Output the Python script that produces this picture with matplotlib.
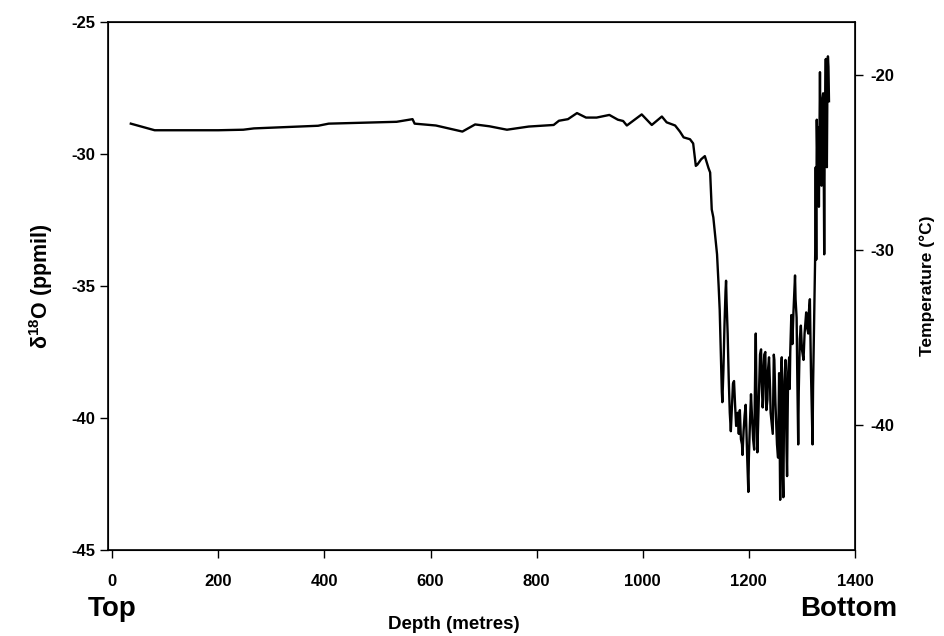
import matplotlib
matplotlib.use("Agg")
import matplotlib.pyplot as plt

plt.rcParams["font.family"] = ["Liberation Sans", "DejaVu Sans"]
plt.rcParams["font.weight"] = "bold"
plt.rcParams["mathtext.default"] = "regular"
plt.rcParams["axes.unicode_minus"] = False

# depth (m) and delta-18O (per mil)
depth = [35, 80, 200, 247, 267, 327, 388, 408, 536, 566, 570, 610, 660, 684,
         711, 744, 785, 832, 842, 859, 876, 893, 913, 937, 953, 963, 970, 998,
         1017, 1036, 1045, 1061, 1070, 1077, 1089, 1095, 1100, 1103, 1110, 1117,
         1124, 1127, 1130, 1133, 1136,
         1140, 1143, 1145, 1147, 1149, 1150, 1152, 1154, 1156, 1157, 1158, 1160,
         1162, 1164, 1166, 1168, 1170, 1172, 1174, 1176, 1177, 1179, 1181, 1183,
         1185, 1187, 1188, 1190, 1192, 1194, 1196, 1197, 1199, 1200, 1202, 1204,
         1206, 1208, 1210, 1211, 1212, 1213, 1214, 1215, 1216, 1218, 1220, 1221,
         1223, 1224, 1226, 1227, 1228, 1229, 1231, 1232, 1233, 1235, 1236, 1238,
         1240, 1241, 1243, 1245, 1246, 1247, 1248, 1250, 1252, 1253, 1255, 1256,
         1257, 1258, 1259, 1260, 1261, 1262, 1263, 1264, 1265, 1266, 1267, 1269,
         1270, 1271, 1272, 1273, 1274, 1276, 1277, 1278, 1280, 1282, 1284, 1287,
         1288, 1290, 1291, 1293, 1294, 1296, 1298, 1300, 1303, 1305, 1308, 1310,
         1312, 1313, 1315, 1317, 1320, 1321, 1323, 1325, 1326, 1327, 1328, 1330,
         1331, 1332, 1334, 1335, 1337, 1338, 1340, 1341, 1342, 1343, 1345, 1346,
         1347, 1348, 1349, 1350, 1351]
d18o = [-28.85, -29.1, -29.1, -29.08, -29.03, -28.98, -28.93, -28.85, -28.78,
        -28.68, -28.85, -28.92, -29.15, -28.88, -28.95, -29.08, -28.96, -28.9,
        -28.74, -28.68, -28.45, -28.62, -28.62, -28.52, -28.7, -28.75, -28.92,
        -28.5, -28.9, -28.58, -28.8, -28.92, -29.15, -29.37, -29.44, -29.6,
        -30.45, -30.4, -30.2, -30.08, -30.54, -30.7, -32.1, -32.4, -33.0,
        -33.8, -35.0, -35.9, -37.5, -39.0, -39.4, -38.2, -36.5, -35.2, -34.8,
        -35.6, -36.8, -38.5, -39.8, -40.5, -39.6, -38.7, -38.6, -39.5, -40.3,
        -40.2, -39.8, -40.6, -39.7, -40.8, -41.0, -41.4, -40.5, -39.9, -39.5,
        -40.9, -41.6, -42.8, -41.5, -40.2, -39.1, -40.0, -40.8, -41.2, -39.5,
        -38.0, -36.8, -38.5, -40.2, -41.3, -39.8, -38.4, -37.6, -37.4, -38.6,
        -39.6, -39.3, -38.0, -37.6, -37.5, -38.8, -39.7, -39.3, -38.2, -37.7,
        -38.9, -39.8, -40.2, -40.6, -39.0, -37.6, -37.8, -39.4, -40.4, -41.0,
        -41.5, -40.0, -38.3, -40.6, -43.1, -40.5, -38.2, -37.7, -40.0, -42.2,
        -43.0, -40.5, -38.6, -37.8, -39.6, -41.2, -42.2, -40.0, -38.3, -37.7,
        -38.9, -37.5, -36.1, -37.2, -36.0, -34.6, -35.5, -36.2, -38.0, -41.0,
        -39.0, -37.0, -36.5, -37.4, -37.8, -36.8, -36.0, -36.6, -36.8, -36.0,
        -35.5, -38.2, -41.0, -38.8, -36.3, -33.8, -30.5, -34.0, -28.7, -31.5,
        -29.0, -32.0, -26.9, -29.5, -31.2, -28.0, -27.7, -30.0, -33.8, -29.0,
        -26.4, -28.5, -30.5, -27.5, -26.3, -26.7, -28.0]

x_ticks = [0, 200, 400, 600, 800, 1000, 1200, 1400]
y_ticks = [-45, -40, -35, -30, -25]
t_ticks = [-40, -30, -20]


def to_temp(d):
    # linear calibration
    return 1.5086 * d + 20.745


fig = plt.figure(figsize=(9.44, 6.36), dpi=100)
ax = fig.add_axes([0.1144, 0.1352, 0.7913, 0.8302])
ax.plot(depth, d18o, color="black", lw=1.7)

ax.set_xlim(-8, 1400)
ax.set_ylim(-45, -25)
ax.set_xticks(x_ticks)
ax.set_yticks(y_ticks)
ax.tick_params(direction="out", length=6, width=1, labelsize=12, pad=3)
ax.tick_params(axis="x", pad=11)
for s in ax.spines.values():
    s.set_linewidth(1.2)
ax.set_ylabel("δ$^{18}$O (ppmil)", fontsize=15.5, fontweight="bold", labelpad=12)

ax2 = ax.twinx()
ax2.set_ylim(to_temp(-45), to_temp(-25))
ax2.set_yticks(t_ticks)
ax2.tick_params(direction="out", length=6, width=1, labelsize=12, pad=5)
ax2.set_ylabel("Temperature (°C)", fontsize=12.5, fontweight="bold", labelpad=18)

fig.text(0.481, 0.004, "Depth (metres)", ha="center", va="bottom", fontsize=13.5,
         fontweight="bold")
fig.text(0.093, 0.022, "Top", ha="left", va="bottom", fontsize=20, fontweight="bold")
fig.text(0.951, 0.022, "Bottom", ha="right", va="bottom", fontsize=20,
         fontweight="bold")

fig.savefig("out.png", dpi=100, facecolor="white")
